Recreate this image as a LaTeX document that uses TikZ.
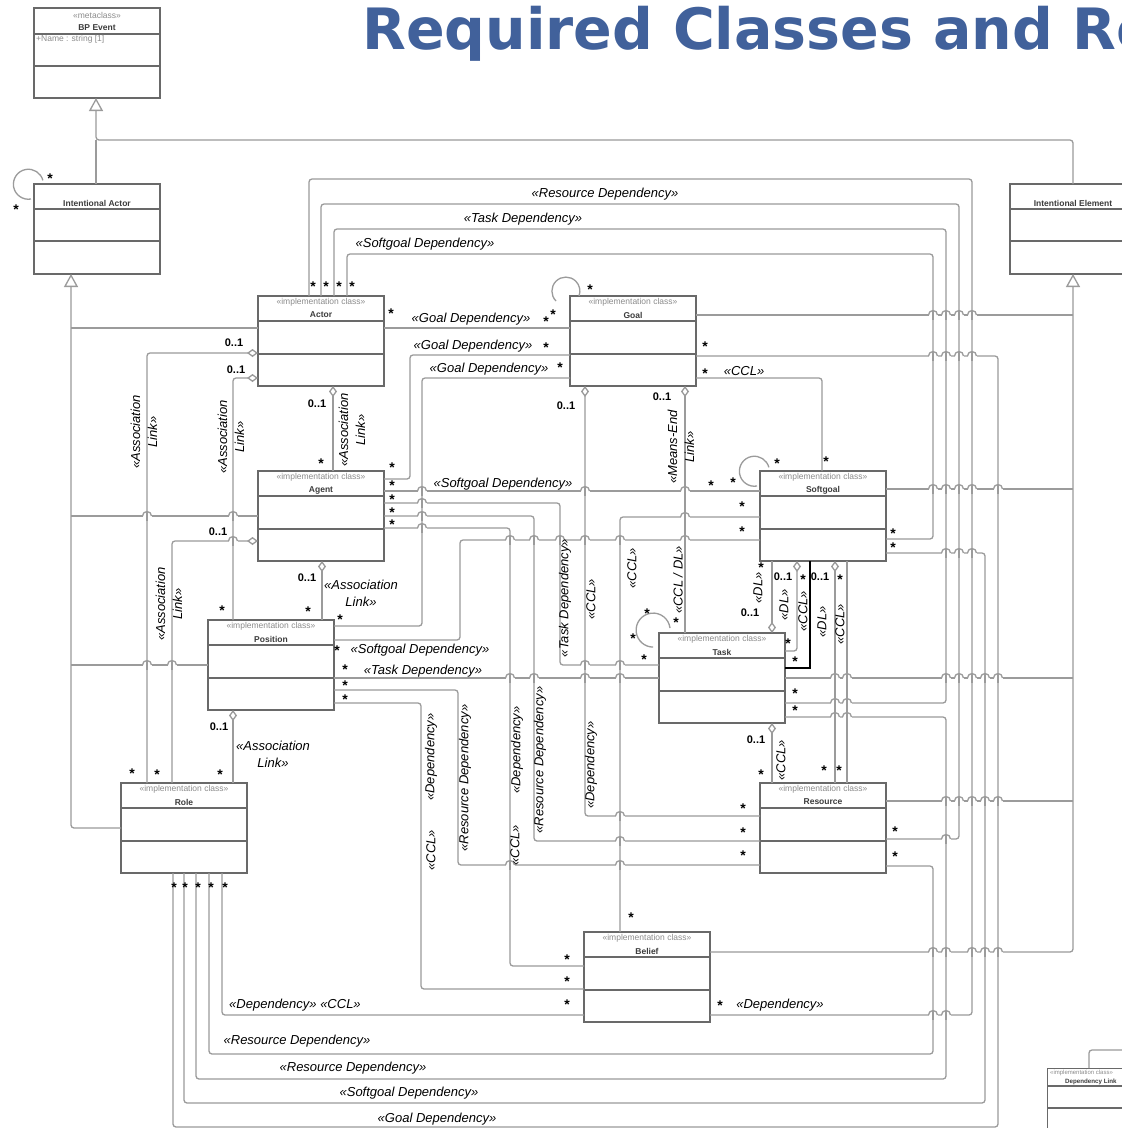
\documentclass[tikz,border=0pt]{standalone}
\usepackage{fontspec}
\setmainfont{Liberation Sans}
\newfontfamily\headfont{DejaVu Sans}
\usetikzlibrary{arrows.meta,calc}

\definecolor{titleblue}{RGB}{65,97,155}
\definecolor{wire}{RGB}{155,155,155}
\definecolor{frame}{RGB}{105,105,105}
\definecolor{stereogray}{RGB}{140,140,140}
\definecolor{namegray}{RGB}{60,60,60}

\tikzset{
  classbox/.style={draw=frame, line width=1.3pt, minimum width=126pt, minimum height=90pt, inner sep=0pt, outer sep=0pt},
  cline/.style={draw=frame, line width=1.1pt},
  stereo/.style={font=\fontsize{8.5}{9}\selectfont, text=stereogray, inner sep=0pt},
  cname/.style={font=\fontsize{8.5}{9}\selectfont\bfseries, text=namegray, inner sep=0pt},
  conn/.style={draw=wire, line width=1.3pt, rounded corners=3pt},
  selconn/.style={draw=black, line width=1.3pt},
  agg/.style={conn, {Diamond[fill=white, length=11pt, width=8pt]}-},
  gen/.style={conn, -{Triangle[fill=white, length=13pt, width=14pt]}},
  lbl/.style={font=\fontsize{13}{17}\selectfont\itshape, inner sep=0pt, align=center},
  vlbl/.style={lbl, rotate=90},
  mult/.style={font=\fontsize{11}{11}\selectfont\bfseries, inner sep=0pt},
  star/.style={font=\fontsize{14}{14}\selectfont\bfseries, inner sep=0pt, yshift=-3pt},
}

% class with the <<implementation class>> stereotype: name, x, y, title
\newcommand\implclass[4]{%
  \node[classbox, anchor=north west] (#1) at (#2,#3) {};
  \draw[cline] ($(#1.north west)+(0,25)$) -- ($(#1.north east)+(0,25)$);
  \draw[cline] ($(#1.north west)+(0,58)$) -- ($(#1.north east)+(0,58)$);
  \node[stereo] (#1-st) at ($(#1.north)+(0,6)$) {«implementation class»};
  \node[cname] (#1-nm) at ($(#1.north)+(0,19)$) {#4};
}
% abstract class without stereotype
\newcommand\plainclass[4]{%
  \node[classbox, anchor=north west] (#1) at (#2,#3) {};
  \draw[cline] ($(#1.north west)+(0,25)$) -- ($(#1.north east)+(0,25)$);
  \draw[cline] ($(#1.north west)+(0,57)$) -- ($(#1.north east)+(0,57)$);
  \node[cname] (#1-nm) at ($(#1.north)+(0,19)$) {#4};
}
% line jump over a vertical wire
\newcommand\hop[2]{%
  \fill[white] (#1-4.5,#2-1.6) rectangle (#1+4.5,#2+1.6);
  \draw[draw=wire, line width=1.3pt] (#1,#2-5) -- (#1,#2+5);
  \draw[draw=wire, line width=1.3pt] (#1-4.5,#2) arc[start angle=180, end angle=0, radius=4.5pt];
}

\begin{document}
\begin{tikzpicture}[x=1pt, y=-1pt]
\useasboundingbox (0,0) rectangle (1122,1128);
\fill[white] (0,0) rectangle (1122,1128);
\clip (0,0) rectangle (1122,1128);

% ---------- title ----------
\node[font=\headfont\bfseries\fontsize{57}{60}\selectfont, text=titleblue, anchor=base west, inner sep=0pt] (title) at (362,49) {Required Classes and Relationships};

% ---------- classes ----------
\node[classbox, anchor=north west] (bpevent) at (34,8) {};
\draw[cline] ($(bpevent.north west)+(0,26)$) -- ($(bpevent.north east)+(0,26)$);
\draw[cline] ($(bpevent.north west)+(0,58)$) -- ($(bpevent.north east)+(0,58)$);
\node[stereo] (bpevent-st) at ($(bpevent.north)+(0,7)$) {«metaclass»};
\node[cname] (bpevent-nm) at ($(bpevent.north)+(0,20)$) {BP Event};
\node[stereo, anchor=west] (bpevent-at) at ($(bpevent.north west)+(2,31)$) {+Name : string [1]};

\plainclass{iactor}{34}{184}{Intentional Actor}
\plainclass{ie}{1010}{184}{Intentional Element}

\implclass{actor}{258}{296}{Actor}
\implclass{goal}{570}{296}{Goal}
\implclass{agent}{258}{471}{Agent}
\implclass{softgoal}{760}{471}{Softgoal}
\implclass{position}{208}{620}{Position}
\implclass{task}{659}{633}{Task}
\implclass{role}{121}{783}{Role}
\implclass{resource}{760}{783}{Resource}
\implclass{belief}{584}{932}{Belief}

\node[draw=frame, line width=1.1pt, minimum width=100pt, minimum height=80pt, inner sep=0pt, anchor=north west] (deplink) at (1047,1068) {};
\draw[cline] ($(deplink.north west)+(0,18)$) -- ($(deplink.north east)+(0,18)$);
\draw[cline] ($(deplink.north west)+(0,40)$) -- ($(deplink.north east)+(0,40)$);
\node[stereo, font=\fontsize{6}{6}\selectfont, anchor=west] (deplink-st) at ($(deplink.north west)+(3,4.5)$) {«implementation class»};
\node[cname, font=\fontsize{6.2}{6}\selectfont\bfseries, anchor=west] (deplink-nm) at ($(deplink.north west)+(18,14)$) {Dependency Link};
\draw[conn] (deplink.north -| 1089,0) |- (1130,1050);

% ---------- generalizations ----------
\draw[gen] (ie.north -| 1073,0) |- (96,140) -- (bpevent.south -| 96,0);
\draw[conn] (iactor.north -| 96,0) -- (96,140);

\draw[gen] (role.west |- 0,828) -| (iactor.south -| 71,0);
\draw[conn] (actor.west |- 0,328) -- (71,328);
\draw[conn] (agent.west |- 0,516) -- (71,516);
\draw[conn] (position.west |- 0,665) -- (71,665);

\draw[gen] (belief.east |- 0,952) -| (ie.south -| 1073,0);
\draw[conn] (goal.east |- 0,315) -- (1073,315);
\draw[conn] (softgoal.east |- 0,489) -- (1073,489);
\draw[conn] (task.east |- 0,678) -- (1073,678);
\draw[conn] (resource.east |- 0,801) -- (1073,801);

% ---------- self associations ----------
\draw[conn] ($(iactor.north west)+(-3,15)$) arc[start angle=-80, end angle=-345, radius=15pt];
\draw[conn] ($(goal.north west)+(-14,5)$) arc[start angle=225, end angle=-20, radius=14pt];
\draw[conn] ($(softgoal.north west)+(-3,15)$) arc[start angle=-80, end angle=-345, radius=15pt];
\draw[conn] ($(task.north west)+(11,-5)$) arc[start angle=7, end angle=270, radius=17pt];

% ---------- aggregations (association links) ----------
\draw[agg] (actor.west |- 0,353) -| (role.north -| 147,0);
\draw[agg] (actor.west |- 0,378) -| (position.north -| 233,0);
\draw[agg] (actor.south -| 333,0) -- (agent.north -| 333,0);
\draw[agg] (agent.west |- 0,541) -| (role.north -| 172,0);
\draw[agg] (agent.south -| 322,0) -- (position.north -| 322,0);
\draw[agg] (position.south -| 233,0) -- (role.north -| 233,0);
\draw[agg] (goal.south -| 585,0) |- (resource.west |- 0,816);
\draw[agg] (goal.south -| 685,0) -- (task.north -| 685,0);
\draw[agg] (task.north -| 772,0) -- (softgoal.south -| 772,0);
\draw[agg] (softgoal.south -| 797,0) |- (task.east |- 0,651);
\draw[agg] (softgoal.south -| 835,0) -- (resource.north -| 835,0);
\draw[agg] (task.south -| 772,0) -- (resource.north -| 772,0);
\draw[selconn] (softgoal.south -| 810,0) |- (task.east |- 0,668);
\draw[conn] (softgoal.south -| 847,0) -- (resource.north -| 847,0);

% ---------- dependencies ----------
% from Actor, over the top
\draw[conn] (actor.north -| 309,0) |- (972,179) |- (belief.east |- 0,1015);
\draw[conn] (actor.north -| 321,0) |- (959,204) |- (resource.east |- 0,839);
\draw[conn] (actor.north -| 334,0) |- (946,229) |- (task.east |- 0,703);
\draw[conn] (actor.north -| 347,0) |- (933,254) |- (softgoal.east |- 0,539);
\draw[conn] (actor.east |- 0,328) -- (goal.west |- 0,328);
% Goal
\draw[conn] (agent.east |- 0,479) -| (410,355) -- (goal.west |- 0,355);
\draw[conn] (position.east |- 0,626) -| (422,378) -- (goal.west |- 0,378);
\draw[conn] (goal.east |- 0,356) -| (998,1127) -| (role.south -| 173,0);
\draw[conn] (goal.east |- 0,378) -| (softgoal.north -| 822,0);
% Softgoal
\draw[conn] (agent.east |- 0,491) -- (softgoal.west |- 0,491);
\draw[conn] (softgoal.west |- 0,517) -| (belief.north -| 620,0);
\draw[conn] (softgoal.west |- 0,540) -| (460,640) -- (position.east |- 0,640);
\draw[conn] (softgoal.east |- 0,553) -| (985,1103) -| (role.south -| 184,0);
% Agent
\draw[conn] (agent.east |- 0,503) -| (560,665) -- (task.west |- 0,665);
\draw[conn] (agent.east |- 0,516) -| (534,841) -- (resource.west |- 0,841);
\draw[conn] (agent.east |- 0,528) -| (510,966) -- (belief.west |- 0,966);
% Position
\draw[conn] (position.east |- 0,678) -- (task.west |- 0,678);
\draw[conn] (position.east |- 0,690) -| (458,865) -- (resource.west |- 0,865);
\draw[conn] (position.east |- 0,703) -| (421,989) -- (belief.west |- 0,989);
% Role, underneath
\draw[conn] (role.south -| 222,0) |- (belief.west |- 0,1015);
\draw[conn] (resource.east |- 0,866) -| (933,1054) -| (role.south -| 209,0);
\draw[conn] (task.east |- 0,717) -| (946,1079) -| (role.south -| 196,0);

% ---------- line jumps ----------
\foreach \yy/\xlist in {315/{933,946,959,972}, 356/{933,946,959,972},
    489/{933,946,959,972,998}, 553/{946,959,972},
    678/{835,847,946,959,972,985,998}, 703/{835,847}, 717/{835,847},
    801/{946,959,972,985,998}, 839/{946}, 952/{933,946,972,985,998},
    1015/{933,946}, 491/{422,585,685}, 503/{422}, 516/{422}, 528/{422},
    517/{685}, 541/{233}, 540/{510,534,560,585,620,685}, 665/{585,620},
    816/{620}, 841/{620}, 865/{510,620}}
  {\foreach \xx in \xlist {\hop{\xx}{\yy}}}
\foreach \xx in {510,534,585,620} {\hop{\xx}{678}}
\foreach \xx in {147,233} {\hop{\xx}{516}}
\foreach \xx in {147,172} {\hop{\xx}{665}}

% ---------- multiplicities ----------
\foreach \px/\py [count=\i] in {50/176, 16/207, 313/284, 326/284, 339/284, 352/284,
    391/311, 546/319, 553/312, 590/287, 546/345, 560/365, 705/344, 705/371, 826/459,
    321/461, 392/465, 392/483, 392/497, 392/510, 392/522,
    711/483, 733/480, 777/461, 742/504, 742/529, 893/531, 893/545,
    308/609, 222/608, 340/617, 337/648, 345/667, 345/683, 345/697,
    647/611, 633/636, 644/657, 676/620, 761/565, 803/577, 840/577,
    788/641, 795/659, 795/691, 795/708, 761/772, 824/768, 839/768,
    132/771, 157/772, 220/772, 174/885, 185/885, 198/885, 211/885, 225/885,
    743/806, 743/830, 743/853, 895/829, 895/854, 631/915,
    567/957, 567/979, 567/1002, 720/1003}
  {\node[star] (m\i) at (\px,\py) {*};}

\foreach \px/\py [count=\i] in {234/343, 236/370, 317/404, 218/532, 307/578, 219/727,
    566/406, 662/397, 750/613, 783/577, 820/577, 756/740}
  {\node[mult] (z\i) at (\px,\py) {0..1};}

% ---------- role names ----------
\node[lbl] (l1) at (605,194) {«Resource Dependency»};
\node[lbl] (l2) at (523,219) {«Task Dependency»};
\node[lbl] (l3) at (425,244) {«Softgoal Dependency»};
\node[lbl] (l4) at (471,319) {«Goal Dependency»};
\node[lbl] (l5) at (473,346) {«Goal Dependency»};
\node[lbl] (l6) at (489,369) {«Goal Dependency»};
\node[lbl] (l7) at (744,371) {«CCL»};
\node[lbl] (l8) at (503,484) {«Softgoal Dependency»};
\node[lbl] (l9) at (420,650) {«Softgoal Dependency»};
\node[lbl] (l10) at (423,671) {«Task Dependency»};
\node[lbl] (l11) at (361,593) {«Association\\Link»};
\node[lbl] (l12) at (273,754) {«Association\\Link»};
\node[lbl] (l13) at (295,1005) {«Dependency» «CCL»};
\node[lbl] (l14) at (297,1041) {«Resource Dependency»};
\node[lbl] (l15) at (353,1068) {«Resource Dependency»};
\node[lbl] (l16) at (409,1093) {«Softgoal Dependency»};
\node[lbl] (l17) at (437,1119) {«Goal Dependency»};
\node[lbl] (l18) at (780,1005) {«Dependency»};

\node[vlbl] (v1) at (144,432) {«Association\\Link»};
\node[vlbl] (v2) at (231,437) {«Association\\Link»};
\node[vlbl] (v3) at (352,430) {«Association\\Link»};
\node[vlbl] (v4) at (169,604) {«Association\\Link»};
\node[vlbl] (v5) at (681,447) {«Means-End\\Link»};
\node[vlbl] (v6) at (565,598) {«Task Dependency»};
\node[vlbl] (v7) at (591,599) {«CCL»};
\node[vlbl] (v8) at (632,568) {«CCL»};
\node[vlbl] (v9) at (678,580) {«CCL / DL»};
\node[vlbl] (v10) at (431,757) {«Dependency»};
\node[vlbl] (v11) at (431,850) {«CCL»};
\node[vlbl] (v12) at (465,778) {«Resource Dependency»};
\node[vlbl] (v13) at (517,750) {«Dependency»};
\node[vlbl] (v14) at (515,845) {«CCL»};
\node[vlbl] (v15) at (540,760) {«Resource Dependency»};
\node[vlbl] (v16) at (591,765) {«Dependency»};
\node[vlbl] (v17) at (758,588) {«DL»};
\node[vlbl] (v18) at (784,605) {«DL»};
\node[vlbl] (v19) at (803,611) {«CCL»};
\node[vlbl] (v20) at (822,622) {«DL»};
\node[vlbl] (v21) at (840,624) {«CCL»};
\node[vlbl] (v22) at (781,760) {«CCL»};
\end{tikzpicture}
\end{document}
